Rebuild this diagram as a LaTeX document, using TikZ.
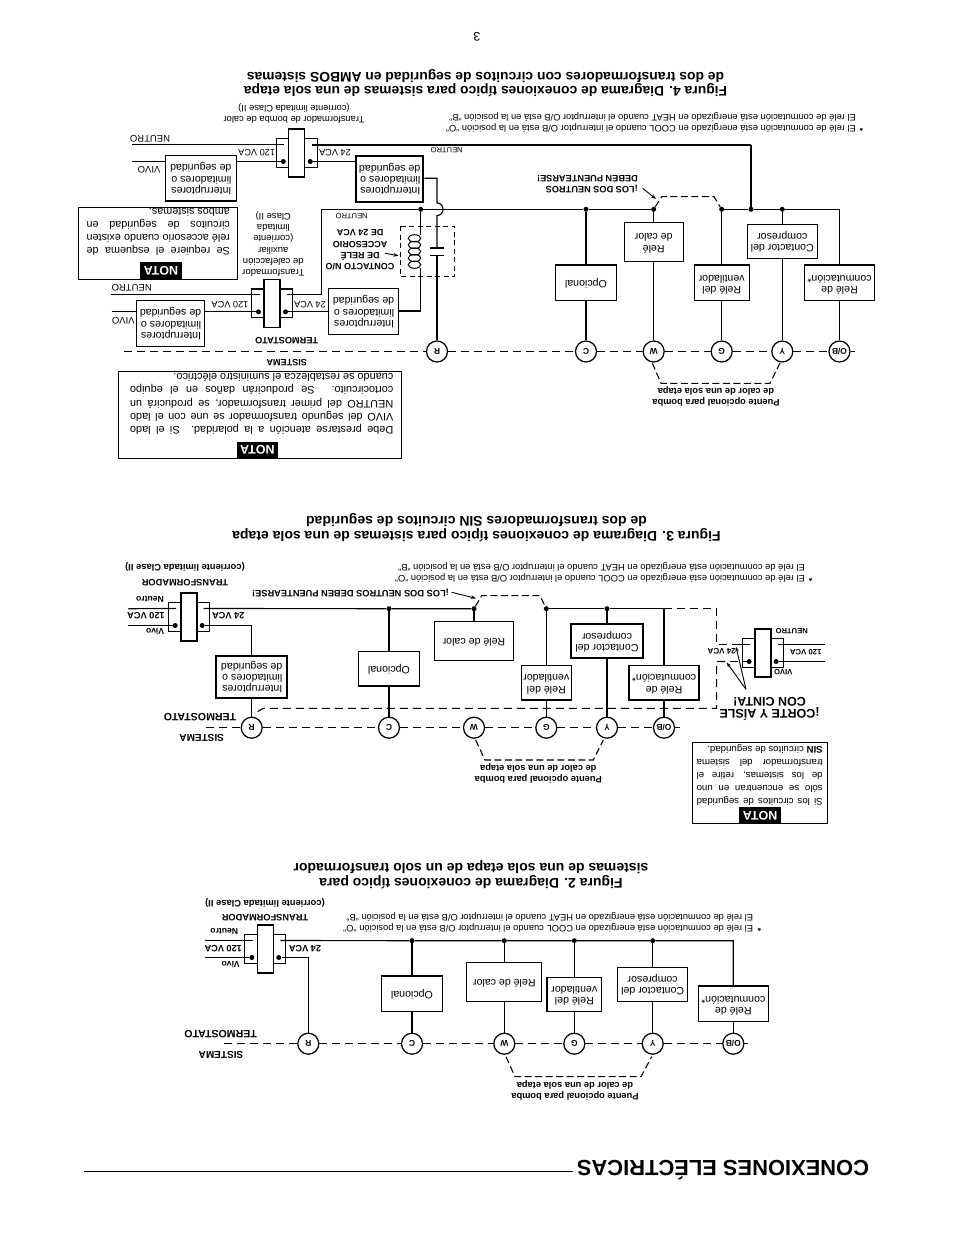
\documentclass[tikz,border=0pt]{standalone}
\usepackage{fontspec}
\setmainfont{Liberation Sans}
\usetikzlibrary{arrows.meta}
\newcommand\fs[2]{\fontsize{#1}{#2}\selectfont}
\newcommand\flip[1]{\rotatebox[origin=c]{180}{\begin{tabular}{@{}c@{}}#1\end{tabular}}}
\newcommand\flipl[1]{\rotatebox[origin=c]{180}{\begin{tabular}{@{}l@{}}#1\end{tabular}}}
\newcommand\jl[2]{\makebox[#1pt][s]{#2}}
\tikzset{
  x=1pt,y=-1pt,
  wire/.style={line width=1.15pt},
  fat/.style={line width=2pt},
  dashw/.style={line width=1.05pt,dash pattern=on 8pt off 5pt},
  bridge/.style={line width=1.05pt,dash pattern=on 7pt off 3.5pt},
  box/.style={draw,fill=white,line width=1.15pt,inner sep=0pt,font=\fs{10.6}{11.2}},
  boxthick/.style={line width=2pt},
  core/.style={draw,fill=white,line width=1.15pt,minimum width=16pt,minimum height=48pt,inner sep=0pt},
  coilb/.style={draw,line width=1.15pt,minimum width=12.5pt,minimum height=28.5pt,inner sep=0pt},
  dot/.style={circle,fill=black,inner sep=0pt,minimum size=5pt},
  term/.style={circle,draw,fill=white,line width=1.25pt,minimum size=21pt,inner sep=0pt,rotate=180,font=\fs{8.4}{9}\bfseries},
  lab/.style={rotate=180,inner sep=0pt,align=center,font=\fs{8.8}{11.4}},
  labb/.style={rotate=180,inner sep=0pt,align=center,font=\fs{9.3}{11.2}\bfseries},
  foot/.style={rotate=180,inner sep=0pt,align=left,anchor=west,font=\fs{9.36}{11.5}},
  title/.style={rotate=180,inner sep=0pt,align=center,font=\fs{14}{14.6}\bfseries},
  nota/.style={rotate=180,fill=black,text=white,inner sep=0pt,font=\fs{12.5}{13}\bfseries},
  note/.style={draw,line width=1.1pt,inner sep=0pt},
  body/.style={rotate=180,inner sep=0pt,align=left},
  ar/.style={line width=0.9pt,-{Stealth[length=5pt,width=3.6pt]}},
}
\newcommand\bx[7][]{\node[box,#1,minimum width=#5pt,minimum height=#6pt] (#2) at (#3,#4) {\flip{#7}};}
\newcommand\bxl[7][]{\node[box,#1,minimum width=#5pt,minimum height=#6pt] (#2) at (#3,#4) {\flipl{#7}};}
\newcommand\xfmr[4][]{%
  \begin{scope}[shift={(#3,#4)}]
    \node[coilb] (#2cl) at (-14.2,0) {};
    \node[coilb] (#2cr) at (14.2,0) {};
    \coordinate (#2nl) at (-12.5,-8.5);
    \coordinate (#2nr) at (15,-8.5);
    \node[dot] (#2dl) at (-13.5,8.5) {};
    \node[dot] (#2dr) at (13.5,8.5) {};
    \node[core,#1] (#2) at (0,0) {};
  \end{scope}}
\begin{document}
\begin{tikzpicture}
\useasboundingbox (0,0) rectangle (954,1235);
\fill[white] (0,0) rectangle (954,1235);

% ---------- page number and heading
\node[rotate=180,inner sep=0pt,font=\fs{12.5}{14}] (pg) at (477,37) {3};
\node[rotate=180,inner sep=0pt,font=\fs{21.9}{24}\bfseries] (head) at (723,1170) {CONEXIONES ELÉCTRICAS};
\coordinate (rulea) at (84,1171.5);
\coordinate (ruleb) at (573,1171.5);
\draw[line width=1pt] (rulea) -- (ruleb);

% ================= FIGURA 4 =================
\node[title,font=\fs{13.85}{14.6}\bfseries] (t4) at (485.5,83) {Figura 4. Diagrama de conexiones típico para sistemas de una sola etapa\\de dos transformadores con circuitos de seguridad en AMBOS sistemas};
\node[foot] (f4a) at (856,128.3) {El relé de conmutación está energizado en COOL cuando el interruptor O/B está en la posición “O”};
\node[foot] (f4b) at (856,116.8) {El relé de conmutación está energizado en HEAT cuando el interruptor O/B está en la posición “B”};
\node[lab,font=\fs{8.8}{10}\bfseries] (f4s) at (861.5,129) {*};

\xfmr{Ta}{296.8}{153}
\xfmr{Tb}{272}{303.3}

\node[term] (cR) at (437,351.5) {R};
\node[term] (cC) at (586,351.5) {C};
\node[term] (cW) at (653.7,351.5) {W};
\node[term] (cG) at (721.7,351.5) {G};
\node[term] (cY) at (782.3,351.5) {Y};
\node[term] (cO) at (839.5,351.5) {O/B};
\coordinate (sysa) at (124,351.5);
\coordinate (sysb) at (855,351.5);
\draw[dashw] (sysa) -- (cR) (cR) -- (cC) (cC) -- (cW) (cW) -- (cG) (cG) -- (cY) (cY) -- (cO) (cO) -- (sysb);

\bxl{sw1}{200.8}{178.3}{71}{45.5}{Interruptores\\limitadores o\\de seguridad}
\bxl[boxthick]{sw2}{389.7}{178.7}{67.3}{46}{Interruptores\\limitadores o\\de seguridad}
\bxl{sw3}{170.5}{323.3}{68.4}{46}{Interruptores\\limitadores o\\de seguridad}
\bxl{sw4}{363.5}{311.3}{70.4}{46}{Interruptores\\limitadores o\\de seguridad}

\bx{bC}{586}{283}{61}{34.6}{Opcional}
\bx{bW}{653.7}{241.8}{59}{39}{Relé\\de calor}
\bx{bG}{721.7}{283}{55}{34.6}{Relé del\\ventilador}
\bx{bY}{782.3}{241.3}{70}{34}{Contactor del\\compresor}
\bx{bO}{839.5}{283}{70}{34.6}{Relé de\\conmutación*}
\draw[fat] (bC.north west) -- (bC.north east);
\draw[fat] (bG.north west) -- (bG.north east);
\draw[fat] (bO.north west) -- (bO.north east);

% neutral bus
\coordinate (n4s) at (321.7,209.3);
\node[dot] (jD) at (420.7,209.3) {};
\node[dot] (jC) at (586,209.3) {};
\node[dot] (jW) at (653.7,209.3) {};
\node[dot] (jG) at (721.7,209.3) {};
\node[dot] (jT) at (751,209.3) {};
\node[dot] (jY) at (782.3,209.3) {};
\coordinate (jO) at (839.5,209.3);
\coordinate (n4t) at (321.7,294.8);
\coordinate (top4) at (751,144.5);
\draw[wire] (Tbnr) -- (n4t) -- (n4s) -- (jD) -- (jC) -- (jW);
\draw[wire] (jG) -- (jT) -- (jY) -- (jO) -- (bO);
\draw[wire] (bO) -- (cO);
\draw[fat] (Tanr) -- (top4);
\draw[line width=1.3pt] (top4) -- (jT);
\draw[wire] (jC) -- (bC) (bC) -- (cC);
\draw[wire] (jW) -- (bW) (bW) -- (cW);
\draw[wire] (jG) -- (bG) (bG) -- (cG);
\draw[wire] (jY) -- (bY) (bY) -- (cY);
% neutros dashed link
\coordinate (lk1) at (661.7,196.7);
\coordinate (lk2) at (714,196.7);
\draw[bridge] (jW) -- (lk1) -- (lk2) -- (jG);
% bridge
\coordinate (br1) at (652.3,363);
\coordinate (br2) at (661,383.3);
\coordinate (br3) at (770,383.3);
\coordinate (br4) at (780,363);
\draw[bridge] (br1) -- (br2) -- (br3) -- (br4);
\node[labb] (p4) at (716,396) {Puente opcional para bomba\\de calor de una sola etapa};

% transformer 1 and 2 wires
\coordinate (ta1) at (131.7,161.5);
\coordinate (ta2) at (132,144.5);
\draw[wire] (ta2) -- (Tanl);
\draw[wire] (ta1 -| sw1.west) -- (ta1);
\draw[wire] (sw1.east |- Tadl) -- (Tadl);
\draw[wire] (Tadr) -- (sw2.west |- Tadr);
\coordinate (tb1) at (111.7,311.8);
\coordinate (tb2) at (110.7,294.8);
\draw[wire] (tb2) -- (Tbnl);
\draw[wire] (tb1) -- (sw3.west |- tb1);
\draw[wire] (sw3.east |- Tbdl) -- (Tbdl);
\draw[wire] (Tbdr) -- (sw4.west |- Tbdr);
% R wire with hop and capacitor
\coordinate (r1) at (437,178.3);
\coordinate (hop1) at (437,203);
\coordinate (hop2) at (437,215.5);
\coordinate (capa) at (437,248);
\coordinate (capb) at (437,255.7);
\draw[wire] (sw2.east |- r1) -- (r1) -- (hop1) .. controls (445,203) and (445,215.5) .. (hop2) -- (capa);
\draw[wire] (capb) -- (cR);
\draw[wire] (430,248) -- (444,248) (430,255.7) -- (444,255.7);
% relay coil
\coordinate (coilt) at (420.7,235);
\coordinate (coilb) at (420.7,268);
\coordinate (d4c) at (420.7,311);
\draw[wire] (jD) -- (coilt);
\draw[wire] (coilb) -- (d4c) -- (sw4.east |- d4c);
\foreach \i in {0,...,4} \draw[line width=1pt] (414.5,{238.3+6.6*\i}) ellipse [x radius=6.3pt,y radius=3.6pt];
\draw[line width=1pt,dash pattern=on 5pt off 3.5pt] (400.7,226.3) rectangle (454.7,276.7);
\coordinate (ar1a) at (385,253.3);
\coordinate (ar1b) at (398.5,255.7);
\draw[ar] (ar1a) -- (ar1b);
\coordinate (ar2a) at (642.7,188.3);
\coordinate (ar2b) at (656,199);
\draw[ar] (ar2a) -- (ar2b);

\node[lab,anchor=west,align=left,font=\fs{9.2}{11}\bfseries] (lds) at (638,183.8) {¡LOS DOS NEUTROS\\DEBEN PUENTEARSE!};
\node[lab,font=\fs{9.33}{11.4}] (lt1) at (294,113.5) {Transformador de bomba de calor\\(corriente limitada Clase II)};
\node[lab,font=\fs{9.5}{10}] (ln1) at (150,138.3) {NEUTRO};
\node[lab,font=\fs{9.5}{10}] (lv1) at (149,170) {VIVO};
\node[lab,font=\fs{9.2}{10}] (l120a) at (256.7,152.3) {120 VCA};
\node[lab,font=\fs{9.2}{10}] (l24a) at (335,152.3) {24 VCA};
\node[lab,font=\fs{7.6}{8}] (ln2) at (446.7,150) {NEUTRO};
\node[lab,font=\fs{7.6}{8}] (ln3) at (351.7,215.8) {NEUTRO};
\node[lab,font=\fs{9}{11.2}\bfseries] (lrel) at (360,250) {CONTACTO N/O\\DE RELÉ\\ACCESORIO\\DE 24 VCA};
\node[lab,font=\fs{9.5}{11.1}] (lt2) at (273.3,244) {Transformador\\de calefacción\\auxiliar\\(corriente\\limitada\\Clase II)};
\node[lab,font=\fs{9.5}{10}] (ln4) at (131.7,287.3) {NEUTRO};
\node[lab,font=\fs{9.5}{10}] (lv2) at (123.3,320.7) {VIVO};
\node[lab,font=\fs{9.2}{10}] (l120b) at (230,304.3) {120 VCA};
\node[lab,font=\fs{9.2}{10}] (l24b) at (310,304.3) {24 VCA};
\node[lab,font=\fs{9.2}{10}\bfseries] (lter) at (286.7,340.7) {TERMOSTATO};
\node[lab,font=\fs{9.1}{10}\bfseries] (lsis) at (286.7,362.3) {SISTEMA};

% notas figura 4
\node[note,minimum width=159.4pt,minimum height=72pt] (na) at (158,243.3) {};
\node[nota,minimum width=41.4pt,minimum height=16.7pt] (naT) at (161,270.7) {NOTA};
\node[body,font=\fs{10.8}{13.1}] (naB) at (158.3,232) {\jl{143.3}{Se requiere el esquema de}\\\jl{143.3}{relé accesorio cuando existen}\\\jl{143.3}{circuitos de seguridad en}\\\makebox[143.3pt][l]{ambos sistemas.}};
\node[note,minimum width=283.4pt,minimum height=87pt] (nb) at (260,414.8) {};
\node[nota,minimum width=40.7pt,minimum height=16.7pt] (nbT) at (257.3,450) {NOTA};
\node[body,font=\fs{10.9}{13.4}] (nbB) at (261.7,404) {\jl{263.3}{Debe prestarse atención a la polaridad. Si el lado}\\\jl{263.3}{VIVO del segundo transformador se une con el lado}\\\jl{263.3}{NEUTRO del primer transformador, se producirá un}\\\jl{263.3}{cortocircuito. Se producirán daños en el equipo}\\\makebox[263.3pt][l]{cuando se restablezca el suministro eléctrico.}};

% ================= FIGURA 3 =================
\node[title] (t3) at (476.5,527.5) {Figura 3. Diagrama de conexiones típico para sistemas de una sola etapa\\de dos transformadores SIN circuitos de seguridad};
\node[foot] (f3a) at (805,578.3) {El relé de conmutación está energizado en COOL cuando el interruptor O/B está en la posición “O”};
\node[foot] (f3b) at (805,566.7) {El relé de conmutación está energizado en HEAT cuando el interruptor O/B está en la posición “B”};
\node[lab,font=\fs{8.8}{10}\bfseries] (f3s) at (810.7,579) {*};

\xfmr[line width=1.9pt]{Tc}{188.7}{617}
\xfmr[line width=1.9pt]{Td}{762.7}{653}

\node[term] (dR) at (251.7,727.7) {R};
\node[term] (dC) at (389,727.7) {C};
\node[term] (dW) at (474,727.7) {W};
\node[term] (dG) at (546.3,727.7) {G};
\node[term] (dY) at (607,727.7) {Y};
\node[term] (dO) at (664,727.7) {O/B};
\coordinate (sy3a) at (206,727.7);
\coordinate (sy3b) at (680,727.7);
\draw[dashw] (sy3a) -- (dR) (dR) -- (dC) (dC) -- (dW) (dW) -- (dG) (dG) -- (dY) (dY) -- (dO) (dO) -- (sy3b);

\bxl[boxthick]{sw5}{251.7}{677}{70.6}{42.6}{Interruptores\\limitadores o\\de seguridad}
\bx{eC}{389}{668.7}{61}{34.7}{Opcional}
\bx{eW}{474}{640.8}{78.3}{39}{Relé de calor}
\bx{eG}{546.3}{682.8}{50}{34.3}{Relé del\\ventilador}
\bx[boxthick]{eY}{607}{641}{71.4}{34.6}{Contactor del\\compresor}
\bx{eO}{664}{682.8}{70}{34.3}{Relé de\\conmutación*}

\node[dot] (kC) at (389,608.7) {};
\node[dot] (kW) at (474,608.7) {};
\node[dot] (kG) at (546.3,608.7) {};
\node[dot] (kY) at (607,608.7) {};
\coordinate (kO) at (664,608.7);
\draw[wire] (Tcnr) -- (kC) -- (kW);
\draw[wire] (kG) -- (kY) -- (kO) -- (eO);
\draw[wire] (eO) -- (dO);
\draw[wire] (kC) -- (eC) (eC) -- (dC);
\draw[wire] (kW) -- (eW);
\draw[wire] (kG) -- (eG) (eG) -- (dG);
\draw[wire] (kY) -- (eY) (eY) -- (dY);
\coordinate (lk3) at (481.7,595.7);
\coordinate (lk4) at (540,595.7);
\draw[bridge] (kW) -- (lk3) -- (lk4) -- (kG);
\coordinate (tc1) at (128.3,608.7);
\coordinate (tc2) at (128.3,625.5);
\coordinate (tc3) at (251.7,625.5);
\draw[wire] (tc1) -- (Tcnl);
\draw[wire] (tc2) -- (Tcdl);
\draw[wire] (Tcdr) -- (tc3) -- (sw5);
\draw[wire] (sw5) -- (dR);
% cut dashed lines
\coordinate (cu1) at (257.7,711.5);
\coordinate (cu2) at (263.3,708.3);
\coordinate (cu3) at (716.7,708.3);
\coordinate (cu4) at (716.7,661.5);
\coordinate (cu5) at (730,661.5);
\coordinate (cu6) at (716.7,608.7);
\coordinate (cu7) at (716.7,644.5);
\coordinate (cu8) at (736.7,644.5);
\draw[dashw] (cu1) -- (cu2) -- (cu3) -- (cu4) -- (cu5);
\draw[dashw] (kO) -- (cu6) -- (cu7) -- (cu8);
\draw[wire] (cu8) -- (Tdnl);
\draw[dashw] (cu5) -- (Tddl);
\coordinate (td1) at (825,644.5);
\coordinate (td2) at (825,661.5);
\draw[wire] (td1) -- (Tdnr);
\draw[wire] (td2) -- (Tddr);
\coordinate (car) at (746,689.3);
\coordinate (caa) at (736,646.7);
\coordinate (cab) at (726.7,662.5);
\draw[ar] (car) -- (caa);
\draw[ar] (car) -- (cab);
\coordinate (ar3a) at (451.7,592.3);
\coordinate (ar3b) at (476,598.3);
\draw[ar] (ar3a) -- (ar3b);
\coordinate (b31) at (475.7,740);
\coordinate (b32) at (485,760);
\coordinate (b33) at (593.3,760);
\coordinate (b34) at (603.3,740);
\draw[bridge] (b31) -- (b32) -- (b33) -- (b34);
\node[labb] (p3) at (538.3,773.7) {Puente opcional para bomba\\de calor de una sola etapa};
\node[lab,font=\fs{9.27}{10}\bfseries] (ld3) at (350.5,593.3) {¡LOS DOS NEUTROS DEBEN PUENTEARSE!};
\node[lab,font=\fs{9.25}{10}\bfseries] (lt3a) at (185,582.3) {TRANSFORMADOR};
\node[lab,font=\fs{9.35}{10}\bfseries] (lt3b) at (185,567.3) {(corriente limitada Clase II)};
\node[lab,font=\fs{8.6}{9}\bfseries] (lt3c) at (150,599.3) {Neutro};
\node[lab,font=\fs{9.2}{10}\bfseries] (lt3d) at (146,616) {120 VCA};
\node[lab,font=\fs{8.6}{9}\bfseries] (lt3e) at (155,631.7) {Vivo};
\node[lab,font=\fs{9.2}{10}\bfseries] (lt3f) at (228.3,616) {24 VCA};
\node[lab,font=\fs{10.6}{11}\bfseries] (lt3g) at (200,716.7) {TERMOSTATO};
\node[lab,font=\fs{10}{11}\bfseries] (lt3h) at (201.7,738.3) {SISTEMA};
\node[lab,font=\fs{7.6}{8}\bfseries] (lt3i) at (791.7,631) {NEUTRO};
\node[lab,font=\fs{7.8}{8}\bfseries] (lt3j) at (805.7,651.7) {120 VCA};
\node[lab,font=\fs{7.6}{8}\bfseries] (lt3k) at (783.3,672.3) {VIVO};
\node[lab,font=\fs{8}{8}\bfseries] (lt3l) at (721.7,651.7) {24 VCA};
\node[lab,font=\fs{12.5}{11.8}\bfseries] (lt3m) at (769.5,709) {¡CORTE Y AÍSLE\\CON CINTA!};

\node[note,minimum width=135pt,minimum height=81.4pt] (nc) at (759.8,783) {};
\node[nota,minimum width=41.7pt,minimum height=16.4pt] (ncT) at (760.2,815.5) {NOTA};
\node[body,font=\fs{9.65}{13.1}] (ncB) at (759.7,775) {\jl{126}{Si los circuitos de seguridad}\\\jl{126}{sólo se encuentran en uno}\\\jl{126}{de los sistemas, retire el}\\\jl{126}{transformador del sistema}\\\makebox[126pt][l]{\textbf{SIN} circuitos de seguridad.}};

% ================= FIGURA 2 =================
\node[title] (t2) at (471,874.5) {Figura 2. Diagrama de conexiones típico para\\sistemas de una sola etapa de un solo transformador};
\node[foot] (f2a) at (753.3,928.3) {El relé de conmutación está energizado en COOL cuando el interruptor O/B está en la posición “O”};
\node[foot] (f2b) at (753.3,916.7) {El relé de conmutación está energizado en HEAT cuando el interruptor O/B está en la posición “B”};
\node[lab,font=\fs{8.8}{10}\bfseries] (f2s) at (759.3,929) {*};

\xfmr{Te}{265.3}{949}

\node[term] (gR) at (308.3,1043.7) {R};
\node[term] (gC) at (412,1043.7) {C};
\node[term] (gW) at (504.3,1043.7) {W};
\node[term] (gG) at (574.3,1043.7) {G};
\node[term] (gY) at (652.7,1043.7) {Y};
\node[term] (gO) at (733.3,1043.7) {O/B};
\coordinate (sy2a) at (224.3,1043.7);
\coordinate (sy2b) at (748.3,1043.7);
\draw[dashw] (sy2a) -- (gR) (gR) -- (gC) (gC) -- (gW) (gW) -- (gG) (gG) -- (gY) (gY) -- (gO) (gO) -- (sy2b);

\bx{hC}{412}{994}{61}{34.7}{Opcional}
\bx{hW}{504.3}{981.8}{75}{39}{Relé de calor}
\bx{hG}{574.3}{994.5}{54.6}{34.3}{Relé del\\ventilador}
\bx{hY}{652.7}{984.3}{70}{34}{Contactor del\\compresor}
\bx{hO}{733.3}{1004}{70.4}{34.6}{Relé de\\conmutación*}
\draw[fat] (hC.north west) -- (hC.north east);
\draw[fat] (hO.north west) -- (hO.north east);

\node[dot] (mC) at (412,940.7) {};
\node[dot] (mW) at (504.3,940.7) {};
\node[dot] (mG) at (574.3,940.7) {};
\node[dot] (mY) at (652.7,940.7) {};
\coordinate (mO) at (733.3,940.7);
\coordinate (te1) at (205,940.5);
\coordinate (te2) at (205,957.5);
\coordinate (te3) at (308.3,957.5);
\draw[wire] (te1) -- (Tenl);
\draw[wire] (te2) -- (Tedl);
\draw[wire] (Tedr) -- (te3) -- (gR);
\draw[wire] (Tenr) -- (mC) -- (mW) -- (mG) -- (mY) -- (mO) -- (hO);
\draw[wire] (hO) -- (gO);
\draw[wire] (mC) -- (hC) (hC) -- (gC);
\draw[wire] (mW) -- (hW) (hW) -- (gW);
\draw[wire] (mG) -- (hG) (hG) -- (gG);
\draw[wire] (mY) -- (hY) (hY) -- (gY);
\coordinate (b21) at (506,1056.7);
\coordinate (b22) at (515,1076.7);
\coordinate (b23) at (641,1076.7);
\coordinate (b24) at (651.7,1056.7);
\draw[bridge] (b21) -- (b22) -- (b23) -- (b24);
\node[labb] (p2) at (575,1090) {Puente opcional para bomba\\de calor de una sola etapa};
\node[lab,font=\fs{9.25}{10}\bfseries] (lt2a) at (265,917.3) {TRANSFORMADOR};
\node[lab,font=\fs{9.35}{10}\bfseries] (lt2b) at (265,902.7) {(corriente limitada Clase II)};
\node[lab,font=\fs{8.6}{9}\bfseries] (lt2c) at (224.3,931.7) {Neutro};
\node[lab,font=\fs{9.2}{10}\bfseries] (lt2d) at (223.3,948.3) {120 VCA};
\node[lab,font=\fs{8.6}{9}\bfseries] (lt2e) at (230.7,964.3) {Vivo};
\node[lab,font=\fs{9.2}{10}\bfseries] (lt2f) at (305,948.3) {24 VCA};
\node[lab,font=\fs{10.6}{11}\bfseries] (lt2g) at (220.7,1034) {TERMOSTATO};
\node[lab,font=\fs{10}{11}\bfseries] (lt2h) at (221,1055) {SISTEMA};
\end{tikzpicture}
\end{document}
